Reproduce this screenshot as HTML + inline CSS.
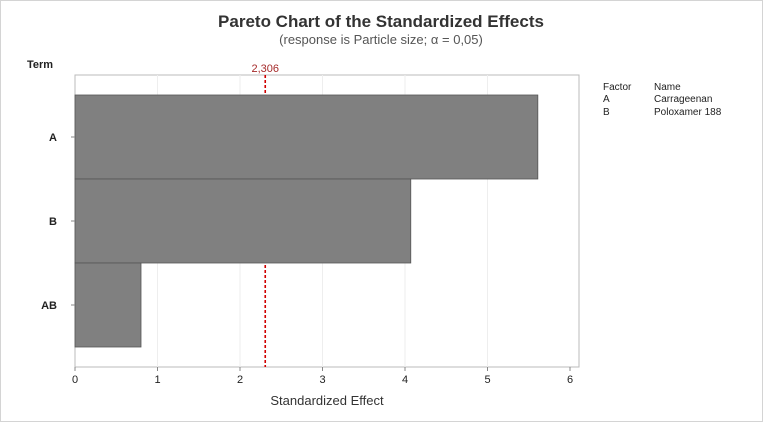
<!DOCTYPE html>
<html><head><meta charset="utf-8"><style>
body{margin:0;background:#fff;}
svg{display:block;font-family:"Liberation Sans",sans-serif;}
</style></head><body>
<svg id="c" width="763" height="422">
<rect x="0.5" y="0.5" width="762" height="421" fill="#fff" stroke="#d4d4d4"/>
<text x="381" y="27" text-anchor="middle" font-size="17" font-weight="600" fill="#333">Pareto Chart of the Standardized Effects</text>
<text x="381" y="44" text-anchor="middle" font-size="13" fill="#555">(response is Particle size; α = 0,05)</text>
<text x="40" y="68" text-anchor="middle" font-size="11" font-weight="bold" fill="#222">Term</text>
<text x="327" y="405" text-anchor="middle" font-size="13" fill="#333">Standardized Effect</text>
<g font-size="10" fill="#222">
<text x="603" y="90">Factor</text><text x="654" y="90">Name</text>
<text x="603" y="102">A</text><text x="654" y="102">Carrageenan</text>
<text x="603" y="115">B</text><text x="654" y="115">Poloxamer 188</text>
</g>
<g id="plot"></g>
</svg>
<script>
const terms=["A","B","AB"];
const effects=[5.61,4.07,0.80];
const ticks=[0,1,2,3,4,5,6];
const critical=2.306;
const L=75,R=579,T=75,B=367;
const x=v=>L+v*82.5;
const bandTop=95,bandH=84;
const y=i=>bandTop+i*bandH;
const ns="http://www.w3.org/2000/svg";
const g=document.getElementById('plot');
function mk(t,a){const e=document.createElementNS(ns,t);for(const k in a)e.setAttribute(k,a[k]);g.appendChild(e);return e;}
let fr=mk('rect',{x:L,y:T,width:R-L,height:B-T,fill:'#fff',stroke:'#bbb'});


ticks.forEach(t=>{
 if(t>0&&t<6){let gl=mk('line',{x1:x(t),x2:x(t),y1:T,y2:B,stroke:'#eee'});
 
 }
 let tk=mk('line',{x1:x(t),x2:x(t),y1:B,y2:B+4,stroke:'#888'});
 
 
 let tl=mk('text',{x:x(t),y:B+16,'text-anchor':'middle','font-size':11,fill:'#222'});
 tl.textContent=t;
 
 
});
let cl=mk('line',{x1:x(critical),x2:x(critical),y1:T,y2:B,stroke:'#d00000','stroke-width':1.6,'stroke-dasharray':'3,2'});


terms.forEach((n,i)=>{
 let r=mk('rect',{x:L,y:y(i),width:x(effects[i])-L,height:bandH,fill:'#808080',stroke:'#555','stroke-width':0.8});
 
 
 let tk=mk('line',{x1:L-4,x2:L,y1:y(i)+bandH/2,y2:y(i)+bandH/2,stroke:'#888'});
 
 
 let tl=mk('text',{x:57,y:y(i)+bandH/2+4,'text-anchor':'end','font-size':11,'font-weight':'bold',fill:'#222'});
 tl.textContent=n;
 
 
});
let ct=mk('text',{x:x(critical),y:T-3,'text-anchor':'middle','font-size':11,fill:'#a52a2a'});
ct.textContent=String(critical).replace('.',',');


</script>
</body></html>
